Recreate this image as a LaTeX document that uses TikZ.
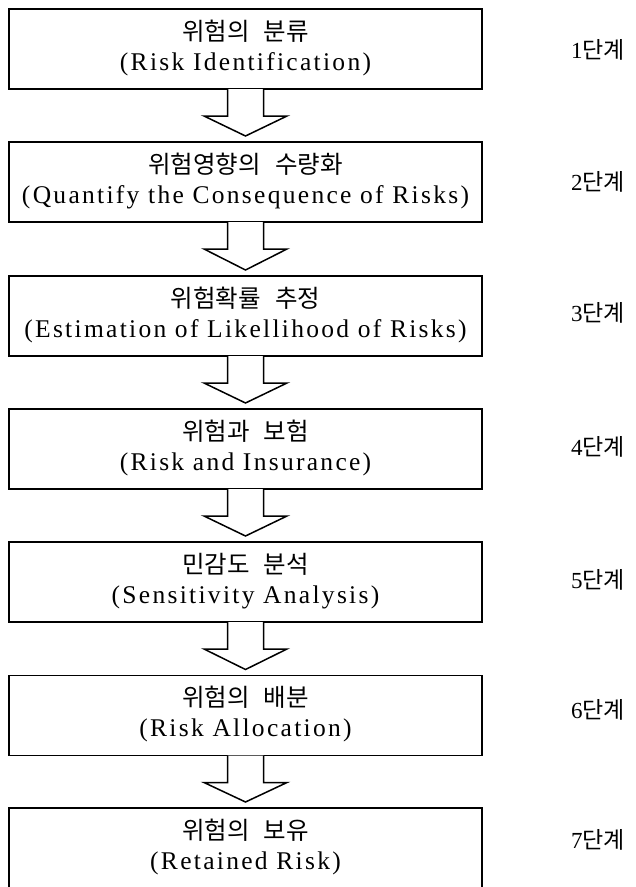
\documentclass[tikz,border=0pt]{standalone}
\usepackage{fontspec}
\setmainfont{Liberation Serif}[LetterSpace=9]
\newfontfamily\kr{Noto Sans CJK KR}[WordSpace=2.6]
\usetikzlibrary{calc}

\tikzset{
  stagebox/.style={draw=black, line width=1.1pt, minimum width=473pt,
    minimum height=80pt, inner sep=0pt, outer sep=0pt},
  krtext/.style={font=\kr\fontsize{24.5}{28}\selectfont, inner sep=0pt},
  entext/.style={font=\fontsize{25.5}{29}\selectfont, inner sep=0pt},
  steptext/.style={font=\fontsize{23}{27}\selectfont, inner sep=0pt},
  flowarrow/.style={draw=black, line width=1.5pt, fill=white, line join=miter}
}

% block arrow from the bottom of one box to the top of the next
\newcommand{\flowarrow}[2]{%
  \draw[flowarrow] ($(#1.south)+(-18,0)$) -- ++(0,27) -- ++(-23.5,0)
    -- ($(#2.north)+(0,-6)$) -- ($(#1.south)+(41.5,27)$)
    -- ++(-23.5,0) -- ($(#1.south)+(18,0)$);}

\begin{document}
\begin{tikzpicture}[x=1pt,y=-1pt]
\useasboundingbox[fill=white] (0,0) rectangle (636,887);

% stage boxes
\node[stagebox] (b1) at (245.5,49) {};
\node[stagebox] (b2) at (245.5,182) {};
\node[stagebox] (b3) at (245.5,316) {};
\node[stagebox] (b4) at (245.5,449) {};
\node[stagebox] (b5) at (245.5,582) {};
\node[stagebox] (b6) at (245.5,715.5) {};
\node[stagebox, minimum height=84pt] (b7) at (245.5,850) {};

% titles
\node[krtext] (k1) at ($(b1.north)+(0,22)$) {위험의 분류};
\node[entext] (e1) at ($(b1.north)+(0,55)$) {(Risk Identification)};
\node[krtext] (k2) at ($(b2.north)+(0,22)$) {위험영향의 수량화};
\node[entext] (e2) at ($(b2.north)+(0,55)$) {(Quantify the Consequence of Risks)};
\node[krtext] (k3) at ($(b3.north)+(0,22)$) {위험확률 추정};
\node[entext] (e3) at ($(b3.north)+(0,55)$) {(Estimation of Likellihood of Risks)};
\node[krtext] (k4) at ($(b4.north)+(0,22)$) {위험과 보험};
\node[entext] (e4) at ($(b4.north)+(0,55)$) {(Risk and Insurance)};
\node[krtext] (k5) at ($(b5.north)+(0,22)$) {민감도 분석};
\node[entext] (e5) at ($(b5.north)+(0,55)$) {(Sensitivity Analysis)};
\node[krtext] (k6) at ($(b6.north)+(0,22)$) {위험의 배분};
\node[entext] (e6) at ($(b6.north)+(0,55)$) {(Risk Allocation)};
\node[krtext] (k7) at ($(b7.north)+(0,22)$) {위험의 보유};
\node[entext] (e7) at ($(b7.north)+(0,55)$) {(Retained Risk)};

% stage numbers
\node[steptext] (s1) at (598,50) {1{\kr 단계}};
\node[steptext] (s2) at (598,182) {2{\kr 단계}};
\node[steptext] (s3) at (598,313) {3{\kr 단계}};
\node[steptext] (s4) at (598,447) {4{\kr 단계}};
\node[steptext] (s5) at (598,580) {5{\kr 단계}};
\node[steptext] (s6) at (598,710) {6{\kr 단계}};
\node[steptext] (s7) at (598,840) {7{\kr 단계}};

% arrows between stages
\flowarrow{b1}{b2}
\flowarrow{b2}{b3}
\flowarrow{b3}{b4}
\flowarrow{b4}{b5}
\flowarrow{b5}{b6}
\flowarrow{b6}{b7}
\end{tikzpicture}
\end{document}
